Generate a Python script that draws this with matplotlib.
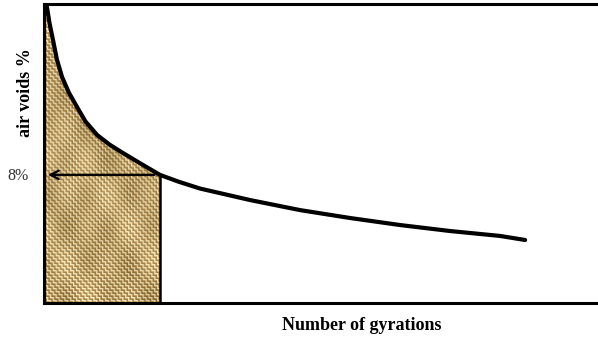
import matplotlib.pyplot as plt
import numpy as np
from matplotlib.patches import Polygon

# Compaction curve: air voids (%) against number of gyrations
gyrations = [0.5, 1.6, 3.0, 4.9, 7.0, 9.8, 13.5, 17.9, 22.5, 28.8, 35.5, 42.9,
             52.0, 62.9, 73.0, 84.6, 111.8, 138.9, 166.0, 193.2, 220.3, 247.4,
             261.0]
air_voids = [15.95, 15.86, 15.1, 14.31, 13.4, 12.58, 11.85, 11.18, 10.5, 9.87,
             9.42, 9.02, 8.55, 8.0, 7.68, 7.36, 6.82, 6.35, 5.98, 5.65, 5.37,
             5.14, 4.95]
target_voids = 8.0
target_label = "8%"

gyrations = np.array(gyrations)
air_voids = np.array(air_voids)

# gyration count where the curve reaches the target air voids
target_gyr = float(np.interp(target_voids, air_voids[::-1], gyrations[::-1]))

y_min, y_max = 2, 16

fig = plt.figure(figsize=(5.98, 3.39), dpi=100)
ax = fig.add_axes([44 / 598, 36 / 339, 553 / 598, 299 / 339])
ax.set_xlim(0, 300)
ax.set_ylim(y_min, y_max)

# shaded region under the curve up to the target
keep = gyrations <= target_gyr
poly_x = np.concatenate([[0], gyrations[keep], [target_gyr, target_gyr, 0]])
poly_y = np.concatenate([[air_voids[0]], air_voids[keep],
                         [target_voids, y_min, y_min]])
region = Polygon(np.column_stack([poly_x, poly_y]), closed=True,
                 facecolor="none", edgecolor="none")
ax.add_patch(region)

# woven burlap texture
h, w = 300, 120
ii, jj = np.mgrid[0:h, 0:w]
block = ((ii // 3) + (jj // 3)) % 2
thread = np.where(block == 0, ii % 3, jj % 3)
base = np.array([190, 158, 100]) / 255
light = np.array([240, 226, 180]) / 255
dark = np.array([150, 118, 66]) / 255
tex = np.where(thread[..., None] == 0, light,
               np.where(thread[..., None] == 1, base, dark))
shade = 0.05 * np.sin(ii / 11.0) * np.cos(jj / 7.0) + 0.03 * np.sin((ii - jj) / 17.0)
tex = np.clip(tex + shade[..., None], 0, 1)
img = ax.imshow(tex, extent=[0, target_gyr, y_min, y_max], origin="upper",
                interpolation="bilinear", aspect="auto", zorder=1)
img.set_clip_path(region)

# curve
ax.plot(gyrations, air_voids, color="black", lw=3.0, solid_capstyle="round",
        solid_joinstyle="round", zorder=3)

# vertical line at the target and arrow to the axis
ax.plot([target_gyr, target_gyr], [y_min, target_voids], color="black",
        lw=1.8, zorder=3)
ax.annotate("", xy=(0.6, target_voids), xytext=(target_gyr - 1.5, target_voids),
            arrowprops=dict(arrowstyle="->", color="black", lw=1.6,
                            mutation_scale=15), zorder=4)

ax.set_xticks([])
ax.set_yticks([])
ax.spines["right"].set_visible(False)
for side in ["left", "top", "bottom"]:
    ax.spines[side].set_linewidth(2.2)
    ax.spines[side].set_zorder(5)

fig.text(18 / 598, 1 - 176 / 339, target_label, ha="center", va="center",
         fontsize=11.5, family="Liberation Serif", color="#333333")

fig.text(26 / 598, 1 - 93 / 339, "air voids %", rotation=90, ha="center",
         va="center", fontsize=13, fontweight="bold", family="Liberation Serif")
fig.text(362 / 598, 1 - 325 / 339, "Number of gyrations", ha="center",
         va="center", fontsize=13, fontweight="bold", family="Liberation Serif")

fig.savefig("out.png", dpi=100)
